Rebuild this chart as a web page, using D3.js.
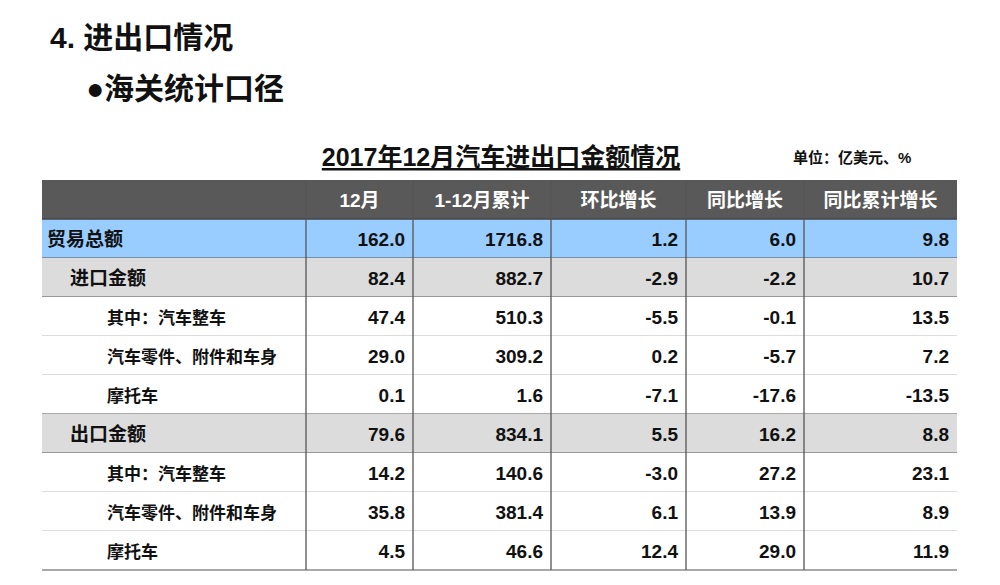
<!DOCTYPE html><html><head><meta charset="utf-8"><script src="https://cdn.jsdelivr.net/npm/d3@7"></script>
<style>body{margin:0;background:#fff}svg{font-family:"Liberation Sans","Noto Sans CJK SC",sans-serif}</style></head><body><svg id="c" width="1000" height="585"></svg><script>
const headers=["12月","1-12月累计","环比增长","同比增长","同比累计增长"];
const labels=["贸易总额","进口金额","其中：汽车整车","汽车零件、附件和车身","摩托车","出口金额","其中：汽车整车","汽车零件、附件和车身","摩托车"];
const indent=[0,1,2,2,2,1,2,2,2];
const rowType=["total","sub","item","item","item","sub","item","item","item"];
const month=["162.0","82.4","47.4","29.0","0.1","79.6","14.2","35.8","4.5"];
const cumul=["1716.8","882.7","510.3","309.2","1.6","834.1","140.6","381.4","46.6"];
const mom=["1.2","-2.9","-5.5","0.2","-7.1","5.5","-3.0","6.1","12.4"];
const yoy=["6.0","-2.2","-0.1","-5.7","-17.6","16.2","27.2","13.9","29.0"];
const yoyCum=["9.8","10.7","13.5","7.2","-13.5","8.8","23.1","8.9","11.9"];
const cols=[month,cumul,mom,yoy,yoyCum];
const svg=d3.select("#c");
svg.append("text").attr("x",50).attr("y",48).attr("font-size",30).attr("font-weight","bold").attr("fill","#111").text("4. 进出口情况");
svg.append("text").attr("x",86).attr("y",99).attr("font-size",30).attr("font-weight","bold").attr("fill","#111").text("●海关统计口径");
svg.append("text").attr("x",501).attr("y",166).attr("text-anchor","middle").attr("font-size",25).attr("font-weight","bold").attr("text-decoration","underline").attr("fill","#111").text("2017年12月汽车进出口金额情况");
svg.append("text").attr("x",793).attr("y",163).attr("font-size",15).attr("font-weight","bold").attr("fill","#111").text("单位：亿美元、%");
const xb=[42,306,413,551,686,804,957];
const y=d3.scaleLinear().domain([0,10]).range([180,570]);
const fills={total:"#99ccff",sub:"#dcdcdc",item:"#ffffff"};
// header
svg.append("rect").attr("x",42).attr("y",y(0)).attr("width",915).attr("height",y(1)-y(0)).attr("fill","#595959");
headers.forEach((h,i)=>svg.append("text").attr("x",(xb[i+1]+xb[i+2])/2).attr("y",(y(0)+y(1))/2+7).attr("text-anchor","middle").attr("font-size",19).attr("font-weight","bold").attr("fill","#fff").text(h));
labels.forEach((l,r)=>{
 const y0=y(r+1),y1=y(r+2);
 svg.append("rect").attr("x",42).attr("y",y0).attr("width",915).attr("height",y1-y0).attr("fill",fills[rowType[r]]);
 svg.append("text").attr("x",47+indent[r]*23+(indent[r]==2?14:0)).attr("y",(y0+y1)/2+7).attr("font-size",rowType[r]=="item"?17:19).attr("font-weight","bold").attr("fill","#111").text(l);
 cols.forEach((c,i)=>svg.append("text").attr("x",xb[i+2]-8).attr("y",(y0+y1)/2+7).attr("text-anchor","end").attr("font-size",19).attr("font-weight","bold").attr("fill","#111").text(c[r]));
 svg.append("line").attr("x1",42).attr("x2",957).attr("y1",y1).attr("y2",y1).attr("stroke",rowType[r]=="item"&&rowType[r+1]=="item"?"#bbb":"#555").attr("stroke-width",1.2);
});
svg.append("line").attr("x1",42).attr("x2",957).attr("y1",y(1)).attr("y2",y(1)).attr("stroke","#444").attr("stroke-width",1.5);
xb.slice(1,6).forEach(x=>svg.append("line").attr("x1",x).attr("x2",x).attr("y1",y(0)).attr("y2",y(10)).attr("stroke","#555").attr("stroke-width",1.3));
</script></body></html>
